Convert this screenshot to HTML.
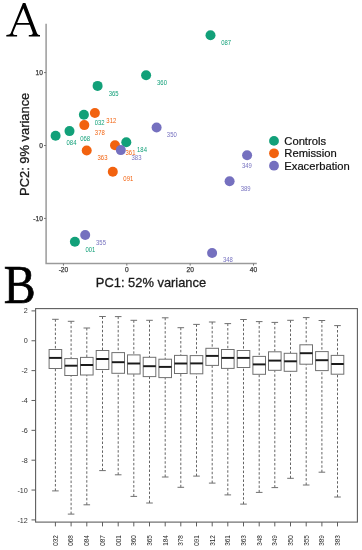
<!DOCTYPE html><html><head><meta charset="utf-8"><style>html,body{margin:0;padding:0;background:#fff;width:362px;height:550px;overflow:hidden}svg{display:block;will-change:transform}text{font-family:"Liberation Sans",sans-serif}</style></head><body>
<svg width="362" height="550" viewBox="0 0 362 550">
<path fill="#000" fill-rule="evenodd" d="M6.3 36.5L6.3 35.0C8.6 34.9 10 34.5 10.8 33.0L22.9 3.1L25.4 3.1L36.7 32.4C37.4 34.4 38.4 34.9 40.0 35.0L40.0 36.5L28.8 36.5L28.8 35.0C31.4 34.9 32.6 34.5 32.7 33.7C32.75 33.2 32.7 32.8 32.6 32.2L29.78 24.8L16.36 24.8L13.3 32C12.9 33.2 13 34 13.5 34.5C14 34.9 15.2 34.95 17.1 35.0L17.1 36.5ZM17.16 22.9L29.05 22.9L23.36 8.15Z"/>
<text transform="translate(3.7 302.7) scale(0.94 1.075)" style="font-family:'Liberation Serif',serif" font-size="51" fill="#000" stroke="#000" stroke-width="0.65">B</text>
<path d="M46.1 23.8 V263.5 H256.8" fill="none" stroke="#9a9a9a" stroke-width="1.5"/>
<line x1="44.0" y1="72.60" x2="46.1" y2="72.60" stroke="#777" stroke-width="1"/>
<text x="42.9" y="75.40" font-size="6.6" fill="#3a3a3a" stroke="#3a3a3a" stroke-width="0.25" text-anchor="end">10</text>
<line x1="44.0" y1="145.50" x2="46.1" y2="145.50" stroke="#777" stroke-width="1"/>
<text x="42.9" y="148.30" font-size="6.6" fill="#3a3a3a" stroke="#3a3a3a" stroke-width="0.25" text-anchor="end">0</text>
<line x1="44.0" y1="218.40" x2="46.1" y2="218.40" stroke="#777" stroke-width="1"/>
<text x="42.9" y="221.20" font-size="6.6" fill="#3a3a3a" stroke="#3a3a3a" stroke-width="0.25" text-anchor="end">-10</text>
<line x1="63.44" y1="263.5" x2="63.44" y2="265.6" stroke="#777" stroke-width="1"/>
<text x="63.44" y="272" font-size="6.6" fill="#3a3a3a" stroke="#3a3a3a" stroke-width="0.25" text-anchor="middle">-20</text>
<line x1="126.80" y1="263.5" x2="126.80" y2="265.6" stroke="#777" stroke-width="1"/>
<text x="126.80" y="272" font-size="6.6" fill="#3a3a3a" stroke="#3a3a3a" stroke-width="0.25" text-anchor="middle">0</text>
<line x1="190.16" y1="263.5" x2="190.16" y2="265.6" stroke="#777" stroke-width="1"/>
<text x="190.16" y="272" font-size="6.6" fill="#3a3a3a" stroke="#3a3a3a" stroke-width="0.25" text-anchor="middle">20</text>
<line x1="253.52" y1="263.5" x2="253.52" y2="265.6" stroke="#777" stroke-width="1"/>
<text x="253.52" y="272" font-size="6.6" fill="#3a3a3a" stroke="#3a3a3a" stroke-width="0.25" text-anchor="middle">40</text>
<text x="151" y="287.4" font-size="12.9" fill="#1a1a1a" stroke="#1a1a1a" stroke-width="0.3" text-anchor="middle">PC1: 52% variance</text>
<text transform="translate(28.8 144.3) rotate(-90)" x="0" y="0" font-size="12.9" fill="#1a1a1a" stroke="#1a1a1a" stroke-width="0.3" text-anchor="middle">PC2: 9% variance</text>
<circle cx="210.50" cy="35.20" r="5.0" fill="#12A079"/>
<circle cx="146.10" cy="75.20" r="5.0" fill="#12A079"/>
<circle cx="97.60" cy="85.90" r="5.0" fill="#12A079"/>
<circle cx="94.90" cy="113.00" r="5.0" fill="#F2620F"/>
<circle cx="83.90" cy="114.70" r="5.0" fill="#12A079"/>
<circle cx="84.30" cy="125.10" r="5.0" fill="#F2620F"/>
<circle cx="69.50" cy="131.10" r="5.0" fill="#12A079"/>
<circle cx="55.60" cy="135.70" r="5.0" fill="#12A079"/>
<circle cx="156.60" cy="127.50" r="5.0" fill="#7570BF"/>
<circle cx="115.00" cy="145.20" r="5.0" fill="#F2620F"/>
<circle cx="126.30" cy="142.30" r="5.0" fill="#12A079"/>
<circle cx="120.80" cy="150.10" r="5.0" fill="#7570BF"/>
<circle cx="86.70" cy="150.50" r="5.0" fill="#F2620F"/>
<circle cx="112.80" cy="171.70" r="5.0" fill="#F2620F"/>
<circle cx="247.10" cy="155.20" r="5.0" fill="#7570BF"/>
<circle cx="229.60" cy="181.30" r="5.0" fill="#7570BF"/>
<circle cx="85.20" cy="235.00" r="5.0" fill="#7570BF"/>
<circle cx="74.90" cy="241.80" r="5.0" fill="#12A079"/>
<circle cx="212.10" cy="253.00" r="5.0" fill="#7570BF"/>
<text transform="translate(226.2 44.75) scale(0.86 1)" font-size="6.9" fill="#12A079" text-anchor="middle">087</text>
<text transform="translate(162 84.75) scale(0.86 1)" font-size="6.9" fill="#12A079" text-anchor="middle">360</text>
<text transform="translate(113.6 95.95) scale(0.86 1)" font-size="6.9" fill="#12A079" text-anchor="middle">365</text>
<text transform="translate(111.3 122.85) scale(0.86 1)" font-size="6.9" fill="#F2620F" text-anchor="middle">312</text>
<text transform="translate(99.6 124.65) scale(0.86 1)" font-size="6.9" fill="#12A079" text-anchor="middle">032</text>
<text transform="translate(99.8 135.05) scale(0.86 1)" font-size="6.9" fill="#F2620F" text-anchor="middle">378</text>
<text transform="translate(85.2 140.55) scale(0.86 1)" font-size="6.9" fill="#12A079" text-anchor="middle">068</text>
<text transform="translate(71.5 145.45) scale(0.86 1)" font-size="6.9" fill="#12A079" text-anchor="middle">084</text>
<text transform="translate(171.8 136.95) scale(0.86 1)" font-size="6.9" fill="#7570BF" text-anchor="middle">350</text>
<text transform="translate(130.5 155.05) scale(0.86 1)" font-size="6.9" fill="#F2620F" text-anchor="middle">361</text>
<text transform="translate(142 152.25) scale(0.86 1)" font-size="6.9" fill="#12A079" text-anchor="middle">184</text>
<text transform="translate(136.5 160.15) scale(0.86 1)" font-size="6.9" fill="#7570BF" text-anchor="middle">383</text>
<text transform="translate(102.5 160.45) scale(0.86 1)" font-size="6.9" fill="#F2620F" text-anchor="middle">363</text>
<text transform="translate(128.3 180.95) scale(0.86 1)" font-size="6.9" fill="#F2620F" text-anchor="middle">091</text>
<text transform="translate(246.9 167.75) scale(0.86 1)" font-size="6.9" fill="#7570BF" text-anchor="middle">349</text>
<text transform="translate(245.6 191.05) scale(0.86 1)" font-size="6.9" fill="#7570BF" text-anchor="middle">389</text>
<text transform="translate(101 244.55) scale(0.86 1)" font-size="6.9" fill="#7570BF" text-anchor="middle">355</text>
<text transform="translate(90.4 251.65) scale(0.86 1)" font-size="6.9" fill="#12A079" text-anchor="middle">001</text>
<text transform="translate(227.9 262.35) scale(0.86 1)" font-size="6.9" fill="#7570BF" text-anchor="middle">348</text>
<circle cx="274" cy="140.90" r="4.9" fill="#12A079"/>
<text transform="translate(284.3 144.85) scale(1.04 1)" font-size="10.8" fill="#111" stroke="#111" stroke-width="0.2">Controls</text>
<circle cx="274" cy="153.30" r="4.9" fill="#F2620F"/>
<text transform="translate(284.3 157.25) scale(1.04 1)" font-size="10.8" fill="#111" stroke="#111" stroke-width="0.2">Remission</text>
<circle cx="274" cy="165.70" r="4.9" fill="#7570BF"/>
<text transform="translate(284.3 169.65) scale(1.04 1)" font-size="10.8" fill="#111" stroke="#111" stroke-width="0.2">Exacerbation</text>
<rect x="35.6" y="308.6" width="321.8" height="213.5" fill="none" stroke="#5e5e5e" stroke-width="1.1"/>
<line x1="31.5" y1="310.89" x2="35.6" y2="310.89" stroke="#5e5e5e" stroke-width="1"/>
<text x="27.8" y="313.49" font-size="7.2" fill="#333" text-anchor="end">2</text>
<line x1="31.5" y1="340.75" x2="35.6" y2="340.75" stroke="#5e5e5e" stroke-width="1"/>
<text x="27.8" y="343.35" font-size="7.2" fill="#333" text-anchor="end">0</text>
<line x1="31.5" y1="370.61" x2="35.6" y2="370.61" stroke="#5e5e5e" stroke-width="1"/>
<text x="27.8" y="373.21" font-size="7.2" fill="#333" text-anchor="end">-2</text>
<line x1="31.5" y1="400.47" x2="35.6" y2="400.47" stroke="#5e5e5e" stroke-width="1"/>
<text x="27.8" y="403.07" font-size="7.2" fill="#333" text-anchor="end">-4</text>
<line x1="31.5" y1="430.33" x2="35.6" y2="430.33" stroke="#5e5e5e" stroke-width="1"/>
<text x="27.8" y="432.93" font-size="7.2" fill="#333" text-anchor="end">-6</text>
<line x1="31.5" y1="460.19" x2="35.6" y2="460.19" stroke="#5e5e5e" stroke-width="1"/>
<text x="27.8" y="462.79" font-size="7.2" fill="#333" text-anchor="end">-8</text>
<line x1="31.5" y1="490.05" x2="35.6" y2="490.05" stroke="#5e5e5e" stroke-width="1"/>
<text x="27.8" y="492.65" font-size="7.2" fill="#333" text-anchor="end">-10</text>
<line x1="31.5" y1="519.91" x2="35.6" y2="519.91" stroke="#5e5e5e" stroke-width="1"/>
<text x="27.8" y="522.51" font-size="7.2" fill="#333" text-anchor="end">-12</text>
<line x1="55.4" y1="522" x2="55.4" y2="526.4" stroke="#5e5e5e" stroke-width="1"/>
<text transform="translate(57.70 545.7) rotate(-90) scale(0.95 1)" font-size="6.7" fill="#1e1e1e">032</text>
<line x1="55.4" y1="319.3" x2="55.4" y2="349.5" stroke="#646464" stroke-width="1" stroke-dasharray="2.5 1.93"/>
<line x1="55.4" y1="490.9" x2="55.4" y2="368.5" stroke="#646464" stroke-width="1" stroke-dasharray="2.5 1.93"/>
<line x1="52.10" y1="319.3" x2="58.70" y2="319.3" stroke="#707070" stroke-width="1"/>
<line x1="52.10" y1="490.9" x2="58.70" y2="490.9" stroke="#707070" stroke-width="1"/>
<rect x="49.10" y="349.5" width="12.60" height="19.00" fill="#fff" stroke="#707070" stroke-width="1"/>
<line x1="49.10" y1="357.9" x2="61.70" y2="357.9" stroke="#1a1a1a" stroke-width="1.95"/>
<line x1="71.1" y1="522" x2="71.1" y2="526.4" stroke="#5e5e5e" stroke-width="1"/>
<text transform="translate(73.40 545.7) rotate(-90) scale(0.95 1)" font-size="6.7" fill="#1e1e1e">068</text>
<line x1="71.1" y1="321.3" x2="71.1" y2="358.6" stroke="#646464" stroke-width="1" stroke-dasharray="2.5 1.93"/>
<line x1="71.1" y1="514.1" x2="71.1" y2="375.5" stroke="#646464" stroke-width="1" stroke-dasharray="2.5 1.93"/>
<line x1="67.80" y1="321.3" x2="74.40" y2="321.3" stroke="#707070" stroke-width="1"/>
<line x1="67.80" y1="514.1" x2="74.40" y2="514.1" stroke="#707070" stroke-width="1"/>
<rect x="64.80" y="358.6" width="12.60" height="16.90" fill="#fff" stroke="#707070" stroke-width="1"/>
<line x1="64.80" y1="365.7" x2="77.40" y2="365.7" stroke="#1a1a1a" stroke-width="1.95"/>
<line x1="86.8" y1="522" x2="86.8" y2="526.4" stroke="#5e5e5e" stroke-width="1"/>
<text transform="translate(89.10 545.7) rotate(-90) scale(0.95 1)" font-size="6.7" fill="#1e1e1e">084</text>
<line x1="86.8" y1="328.0" x2="86.8" y2="357.4" stroke="#646464" stroke-width="1" stroke-dasharray="2.5 1.93"/>
<line x1="86.8" y1="504.8" x2="86.8" y2="375.0" stroke="#646464" stroke-width="1" stroke-dasharray="2.5 1.93"/>
<line x1="83.50" y1="328.0" x2="90.10" y2="328.0" stroke="#707070" stroke-width="1"/>
<line x1="83.50" y1="504.8" x2="90.10" y2="504.8" stroke="#707070" stroke-width="1"/>
<rect x="80.50" y="357.4" width="12.60" height="17.60" fill="#fff" stroke="#707070" stroke-width="1"/>
<line x1="80.50" y1="365.0" x2="93.10" y2="365.0" stroke="#1a1a1a" stroke-width="1.95"/>
<line x1="102.5" y1="522" x2="102.5" y2="526.4" stroke="#5e5e5e" stroke-width="1"/>
<text transform="translate(104.80 545.7) rotate(-90) scale(0.95 1)" font-size="6.7" fill="#1e1e1e">087</text>
<line x1="102.5" y1="316.5" x2="102.5" y2="350.5" stroke="#646464" stroke-width="1" stroke-dasharray="2.5 1.93"/>
<line x1="102.5" y1="470.6" x2="102.5" y2="369.5" stroke="#646464" stroke-width="1" stroke-dasharray="2.5 1.93"/>
<line x1="99.20" y1="316.5" x2="105.80" y2="316.5" stroke="#707070" stroke-width="1"/>
<line x1="99.20" y1="470.6" x2="105.80" y2="470.6" stroke="#707070" stroke-width="1"/>
<rect x="96.20" y="350.5" width="12.60" height="19.00" fill="#fff" stroke="#707070" stroke-width="1"/>
<line x1="96.20" y1="359.0" x2="108.80" y2="359.0" stroke="#1a1a1a" stroke-width="1.95"/>
<line x1="118.2" y1="522" x2="118.2" y2="526.4" stroke="#5e5e5e" stroke-width="1"/>
<text transform="translate(120.50 545.7) rotate(-90) scale(0.95 1)" font-size="6.7" fill="#1e1e1e">001</text>
<line x1="118.2" y1="316.6" x2="118.2" y2="352.6" stroke="#646464" stroke-width="1" stroke-dasharray="2.5 1.93"/>
<line x1="118.2" y1="474.8" x2="118.2" y2="373.3" stroke="#646464" stroke-width="1" stroke-dasharray="2.5 1.93"/>
<line x1="114.90" y1="316.6" x2="121.50" y2="316.6" stroke="#707070" stroke-width="1"/>
<line x1="114.90" y1="474.8" x2="121.50" y2="474.8" stroke="#707070" stroke-width="1"/>
<rect x="111.90" y="352.6" width="12.60" height="20.70" fill="#fff" stroke="#707070" stroke-width="1"/>
<line x1="111.90" y1="362.2" x2="124.50" y2="362.2" stroke="#1a1a1a" stroke-width="1.95"/>
<line x1="133.8" y1="522" x2="133.8" y2="526.4" stroke="#5e5e5e" stroke-width="1"/>
<text transform="translate(136.10 545.7) rotate(-90) scale(0.95 1)" font-size="6.7" fill="#1e1e1e">360</text>
<line x1="133.8" y1="320.3" x2="133.8" y2="354.9" stroke="#646464" stroke-width="1" stroke-dasharray="2.5 1.93"/>
<line x1="133.8" y1="496.4" x2="133.8" y2="374.0" stroke="#646464" stroke-width="1" stroke-dasharray="2.5 1.93"/>
<line x1="130.50" y1="320.3" x2="137.10" y2="320.3" stroke="#707070" stroke-width="1"/>
<line x1="130.50" y1="496.4" x2="137.10" y2="496.4" stroke="#707070" stroke-width="1"/>
<rect x="127.50" y="354.9" width="12.60" height="19.10" fill="#fff" stroke="#707070" stroke-width="1"/>
<line x1="127.50" y1="363.5" x2="140.10" y2="363.5" stroke="#1a1a1a" stroke-width="1.95"/>
<line x1="149.5" y1="522" x2="149.5" y2="526.4" stroke="#5e5e5e" stroke-width="1"/>
<text transform="translate(151.80 545.7) rotate(-90) scale(0.95 1)" font-size="6.7" fill="#1e1e1e">365</text>
<line x1="149.5" y1="320.3" x2="149.5" y2="357.3" stroke="#646464" stroke-width="1" stroke-dasharray="2.5 1.93"/>
<line x1="149.5" y1="503.0" x2="149.5" y2="376.6" stroke="#646464" stroke-width="1" stroke-dasharray="2.5 1.93"/>
<line x1="146.20" y1="320.3" x2="152.80" y2="320.3" stroke="#707070" stroke-width="1"/>
<line x1="146.20" y1="503.0" x2="152.80" y2="503.0" stroke="#707070" stroke-width="1"/>
<rect x="143.20" y="357.3" width="12.60" height="19.30" fill="#fff" stroke="#707070" stroke-width="1"/>
<line x1="143.20" y1="366.2" x2="155.80" y2="366.2" stroke="#1a1a1a" stroke-width="1.95"/>
<line x1="165.2" y1="522" x2="165.2" y2="526.4" stroke="#5e5e5e" stroke-width="1"/>
<text transform="translate(167.50 545.7) rotate(-90) scale(0.95 1)" font-size="6.7" fill="#1e1e1e">184</text>
<line x1="165.2" y1="317.8" x2="165.2" y2="359.2" stroke="#646464" stroke-width="1" stroke-dasharray="2.5 1.93"/>
<line x1="165.2" y1="477.0" x2="165.2" y2="377.6" stroke="#646464" stroke-width="1" stroke-dasharray="2.5 1.93"/>
<line x1="161.90" y1="317.8" x2="168.50" y2="317.8" stroke="#707070" stroke-width="1"/>
<line x1="161.90" y1="477.0" x2="168.50" y2="477.0" stroke="#707070" stroke-width="1"/>
<rect x="158.90" y="359.2" width="12.60" height="18.40" fill="#fff" stroke="#707070" stroke-width="1"/>
<line x1="158.90" y1="366.9" x2="171.50" y2="366.9" stroke="#1a1a1a" stroke-width="1.95"/>
<line x1="180.8" y1="522" x2="180.8" y2="526.4" stroke="#5e5e5e" stroke-width="1"/>
<text transform="translate(183.10 545.7) rotate(-90) scale(0.95 1)" font-size="6.7" fill="#1e1e1e">378</text>
<line x1="180.8" y1="327.7" x2="180.8" y2="355.4" stroke="#646464" stroke-width="1" stroke-dasharray="2.5 1.93"/>
<line x1="180.8" y1="487.3" x2="180.8" y2="373.5" stroke="#646464" stroke-width="1" stroke-dasharray="2.5 1.93"/>
<line x1="177.50" y1="327.7" x2="184.10" y2="327.7" stroke="#707070" stroke-width="1"/>
<line x1="177.50" y1="487.3" x2="184.10" y2="487.3" stroke="#707070" stroke-width="1"/>
<rect x="174.50" y="355.4" width="12.60" height="18.10" fill="#fff" stroke="#707070" stroke-width="1"/>
<line x1="174.50" y1="363.5" x2="187.10" y2="363.5" stroke="#1a1a1a" stroke-width="1.95"/>
<line x1="196.5" y1="522" x2="196.5" y2="526.4" stroke="#5e5e5e" stroke-width="1"/>
<text transform="translate(198.80 545.7) rotate(-90) scale(0.95 1)" font-size="6.7" fill="#1e1e1e">091</text>
<line x1="196.5" y1="324.4" x2="196.5" y2="355.6" stroke="#646464" stroke-width="1" stroke-dasharray="2.5 1.93"/>
<line x1="196.5" y1="476.1" x2="196.5" y2="373.8" stroke="#646464" stroke-width="1" stroke-dasharray="2.5 1.93"/>
<line x1="193.20" y1="324.4" x2="199.80" y2="324.4" stroke="#707070" stroke-width="1"/>
<line x1="193.20" y1="476.1" x2="199.80" y2="476.1" stroke="#707070" stroke-width="1"/>
<rect x="190.20" y="355.6" width="12.60" height="18.20" fill="#fff" stroke="#707070" stroke-width="1"/>
<line x1="190.20" y1="363.4" x2="202.80" y2="363.4" stroke="#1a1a1a" stroke-width="1.95"/>
<line x1="212.2" y1="522" x2="212.2" y2="526.4" stroke="#5e5e5e" stroke-width="1"/>
<text transform="translate(214.50 545.7) rotate(-90) scale(0.95 1)" font-size="6.7" fill="#1e1e1e">312</text>
<line x1="212.2" y1="322.0" x2="212.2" y2="348.3" stroke="#646464" stroke-width="1" stroke-dasharray="2.5 1.93"/>
<line x1="212.2" y1="483.1" x2="212.2" y2="365.4" stroke="#646464" stroke-width="1" stroke-dasharray="2.5 1.93"/>
<line x1="208.90" y1="322.0" x2="215.50" y2="322.0" stroke="#707070" stroke-width="1"/>
<line x1="208.90" y1="483.1" x2="215.50" y2="483.1" stroke="#707070" stroke-width="1"/>
<rect x="205.90" y="348.3" width="12.60" height="17.10" fill="#fff" stroke="#707070" stroke-width="1"/>
<line x1="205.90" y1="355.9" x2="218.50" y2="355.9" stroke="#1a1a1a" stroke-width="1.95"/>
<line x1="227.8" y1="522" x2="227.8" y2="526.4" stroke="#5e5e5e" stroke-width="1"/>
<text transform="translate(230.10 545.7) rotate(-90) scale(0.95 1)" font-size="6.7" fill="#1e1e1e">361</text>
<line x1="227.8" y1="323.6" x2="227.8" y2="349.5" stroke="#646464" stroke-width="1" stroke-dasharray="2.5 1.93"/>
<line x1="227.8" y1="494.9" x2="227.8" y2="368.4" stroke="#646464" stroke-width="1" stroke-dasharray="2.5 1.93"/>
<line x1="224.50" y1="323.6" x2="231.10" y2="323.6" stroke="#707070" stroke-width="1"/>
<line x1="224.50" y1="494.9" x2="231.10" y2="494.9" stroke="#707070" stroke-width="1"/>
<rect x="221.50" y="349.5" width="12.60" height="18.90" fill="#fff" stroke="#707070" stroke-width="1"/>
<line x1="221.50" y1="357.9" x2="234.10" y2="357.9" stroke="#1a1a1a" stroke-width="1.95"/>
<line x1="243.5" y1="522" x2="243.5" y2="526.4" stroke="#5e5e5e" stroke-width="1"/>
<text transform="translate(245.80 545.7) rotate(-90) scale(0.95 1)" font-size="6.7" fill="#1e1e1e">363</text>
<line x1="243.5" y1="319.5" x2="243.5" y2="350.5" stroke="#646464" stroke-width="1" stroke-dasharray="2.5 1.93"/>
<line x1="243.5" y1="504.1" x2="243.5" y2="367.5" stroke="#646464" stroke-width="1" stroke-dasharray="2.5 1.93"/>
<line x1="240.20" y1="319.5" x2="246.80" y2="319.5" stroke="#707070" stroke-width="1"/>
<line x1="240.20" y1="504.1" x2="246.80" y2="504.1" stroke="#707070" stroke-width="1"/>
<rect x="237.20" y="350.5" width="12.60" height="17.00" fill="#fff" stroke="#707070" stroke-width="1"/>
<line x1="237.20" y1="357.9" x2="249.80" y2="357.9" stroke="#1a1a1a" stroke-width="1.95"/>
<line x1="259.2" y1="522" x2="259.2" y2="526.4" stroke="#5e5e5e" stroke-width="1"/>
<text transform="translate(261.50 545.7) rotate(-90) scale(0.95 1)" font-size="6.7" fill="#1e1e1e">348</text>
<line x1="259.2" y1="321.6" x2="259.2" y2="356.4" stroke="#646464" stroke-width="1" stroke-dasharray="2.5 1.93"/>
<line x1="259.2" y1="492.4" x2="259.2" y2="374.3" stroke="#646464" stroke-width="1" stroke-dasharray="2.5 1.93"/>
<line x1="255.90" y1="321.6" x2="262.50" y2="321.6" stroke="#707070" stroke-width="1"/>
<line x1="255.90" y1="492.4" x2="262.50" y2="492.4" stroke="#707070" stroke-width="1"/>
<rect x="252.90" y="356.4" width="12.60" height="17.90" fill="#fff" stroke="#707070" stroke-width="1"/>
<line x1="252.90" y1="364.4" x2="265.50" y2="364.4" stroke="#1a1a1a" stroke-width="1.95"/>
<line x1="274.8" y1="522" x2="274.8" y2="526.4" stroke="#5e5e5e" stroke-width="1"/>
<text transform="translate(277.10 545.7) rotate(-90) scale(0.95 1)" font-size="6.7" fill="#1e1e1e">349</text>
<line x1="274.8" y1="322.4" x2="274.8" y2="351.8" stroke="#646464" stroke-width="1" stroke-dasharray="2.5 1.93"/>
<line x1="274.8" y1="487.6" x2="274.8" y2="370.3" stroke="#646464" stroke-width="1" stroke-dasharray="2.5 1.93"/>
<line x1="271.50" y1="322.4" x2="278.10" y2="322.4" stroke="#707070" stroke-width="1"/>
<line x1="271.50" y1="487.6" x2="278.10" y2="487.6" stroke="#707070" stroke-width="1"/>
<rect x="268.50" y="351.8" width="12.60" height="18.50" fill="#fff" stroke="#707070" stroke-width="1"/>
<line x1="268.50" y1="360.6" x2="281.10" y2="360.6" stroke="#1a1a1a" stroke-width="1.95"/>
<line x1="290.5" y1="522" x2="290.5" y2="526.4" stroke="#5e5e5e" stroke-width="1"/>
<text transform="translate(292.80 545.7) rotate(-90) scale(0.95 1)" font-size="6.7" fill="#1e1e1e">350</text>
<line x1="290.5" y1="320.3" x2="290.5" y2="353.3" stroke="#646464" stroke-width="1" stroke-dasharray="2.5 1.93"/>
<line x1="290.5" y1="478.3" x2="290.5" y2="371.3" stroke="#646464" stroke-width="1" stroke-dasharray="2.5 1.93"/>
<line x1="287.20" y1="320.3" x2="293.80" y2="320.3" stroke="#707070" stroke-width="1"/>
<line x1="287.20" y1="478.3" x2="293.80" y2="478.3" stroke="#707070" stroke-width="1"/>
<rect x="284.20" y="353.3" width="12.60" height="18.00" fill="#fff" stroke="#707070" stroke-width="1"/>
<line x1="284.20" y1="361.3" x2="296.80" y2="361.3" stroke="#1a1a1a" stroke-width="1.95"/>
<line x1="306.2" y1="522" x2="306.2" y2="526.4" stroke="#5e5e5e" stroke-width="1"/>
<text transform="translate(308.50 545.7) rotate(-90) scale(0.95 1)" font-size="6.7" fill="#1e1e1e">355</text>
<line x1="306.2" y1="317.6" x2="306.2" y2="344.8" stroke="#646464" stroke-width="1" stroke-dasharray="2.5 1.93"/>
<line x1="306.2" y1="485.0" x2="306.2" y2="364.2" stroke="#646464" stroke-width="1" stroke-dasharray="2.5 1.93"/>
<line x1="302.90" y1="317.6" x2="309.50" y2="317.6" stroke="#707070" stroke-width="1"/>
<line x1="302.90" y1="485.0" x2="309.50" y2="485.0" stroke="#707070" stroke-width="1"/>
<rect x="299.90" y="344.8" width="12.60" height="19.40" fill="#fff" stroke="#707070" stroke-width="1"/>
<line x1="299.90" y1="353.2" x2="312.50" y2="353.2" stroke="#1a1a1a" stroke-width="1.95"/>
<line x1="321.9" y1="522" x2="321.9" y2="526.4" stroke="#5e5e5e" stroke-width="1"/>
<text transform="translate(324.20 545.7) rotate(-90) scale(0.95 1)" font-size="6.7" fill="#1e1e1e">389</text>
<line x1="321.9" y1="320.5" x2="321.9" y2="351.6" stroke="#646464" stroke-width="1" stroke-dasharray="2.5 1.93"/>
<line x1="321.9" y1="472.2" x2="321.9" y2="370.6" stroke="#646464" stroke-width="1" stroke-dasharray="2.5 1.93"/>
<line x1="318.60" y1="320.5" x2="325.20" y2="320.5" stroke="#707070" stroke-width="1"/>
<line x1="318.60" y1="472.2" x2="325.20" y2="472.2" stroke="#707070" stroke-width="1"/>
<rect x="315.60" y="351.6" width="12.60" height="19.00" fill="#fff" stroke="#707070" stroke-width="1"/>
<line x1="315.60" y1="360.2" x2="328.20" y2="360.2" stroke="#1a1a1a" stroke-width="1.95"/>
<line x1="337.5" y1="522" x2="337.5" y2="526.4" stroke="#5e5e5e" stroke-width="1"/>
<text transform="translate(339.80 545.7) rotate(-90) scale(0.95 1)" font-size="6.7" fill="#1e1e1e">383</text>
<line x1="337.5" y1="325.6" x2="337.5" y2="355.4" stroke="#646464" stroke-width="1" stroke-dasharray="2.5 1.93"/>
<line x1="337.5" y1="497.0" x2="337.5" y2="374.2" stroke="#646464" stroke-width="1" stroke-dasharray="2.5 1.93"/>
<line x1="334.20" y1="325.6" x2="340.80" y2="325.6" stroke="#707070" stroke-width="1"/>
<line x1="334.20" y1="497.0" x2="340.80" y2="497.0" stroke="#707070" stroke-width="1"/>
<rect x="331.20" y="355.4" width="12.60" height="18.80" fill="#fff" stroke="#707070" stroke-width="1"/>
<line x1="331.20" y1="364.0" x2="343.80" y2="364.0" stroke="#1a1a1a" stroke-width="1.95"/>
</svg></body></html>
